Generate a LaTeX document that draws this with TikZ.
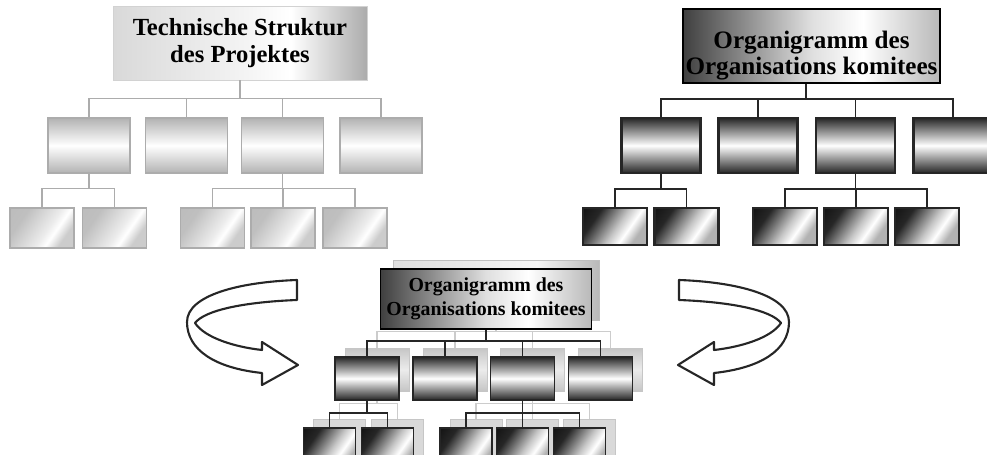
\documentclass[tikz,border=0pt]{standalone}
\usepackage{fontspec}
\setmainfont{Liberation Serif}
\usetikzlibrary{positioning}

% shadings for the boxes
\pgfdeclarehorizontalshading{titlegray}{100bp}{color(0bp)=(gray!30); color(25bp)=(gray!30); color(52bp)=(gray!8); color(60bp)=(white); color(75bp)=(gray!65); color(100bp)=(gray!65)}
\pgfdeclarehorizontalshading{titledark}{100bp}{color(0bp)=(black!80); color(25bp)=(black!75); color(50bp)=(gray!25); color(60bp)=(white); color(75bp)=(gray!55); color(100bp)=(gray!55)}
\pgfdeclarehorizontalshading{titleshadow}{100bp}{color(0bp)=(gray!25); color(25bp)=(gray!25); color(60bp)=(gray!8); color(75bp)=(gray!55); color(100bp)=(gray!55)}
\pgfdeclarehorizontalshading{leafgray}{100bp}{color(0bp)=(gray!55); color(30bp)=(gray!50); color(55bp)=(gray!15); color(62bp)=(white); color(72bp)=(gray!40); color(100bp)=(gray!40)}
\pgfdeclarehorizontalshading{leafdark}{100bp}{color(0bp)=(black); color(30bp)=(black!85); color(52bp)=(gray!45); color(62bp)=(white); color(72bp)=(gray!60); color(100bp)=(gray!60)}

\tikzset{
  ltitle/.style={draw=gray!35, shading=titlegray, minimum width=5.08cm, minimum height=1.48cm, align=center, font=\fontsize{14}{15.4}\selectfont\bfseries},
  lbox/.style={draw=gray!65, line width=0.6pt, top color=gray!60, bottom color=gray!60, middle color=white, minimum width=1.64cm, minimum height=1.1cm},
  lleaf/.style={draw=gray!65, line width=0.6pt, shading=leafgray, shading angle=-35, minimum width=1.28cm, minimum height=0.8cm},
  lline/.style={gray!65, line width=0.7pt},
  rtitle/.style={draw=black, line width=1.2pt, shading=titledark, minimum width=5.14cm, minimum height=1.48cm},
  rtext/.style={align=center, font=\fontsize{14.3}{14.8}\selectfont\bfseries},
  rbox/.style={draw=black!85, line width=1.2pt, top color=black!85, bottom color=black!85, middle color=white, minimum width=1.58cm, minimum height=1.1cm},
  rleaf/.style={draw=black!85, line width=1.2pt, shading=leafdark, shading angle=-35, minimum width=1.28cm, minimum height=0.74cm},
  rline/.style={black!85, line width=1.1pt},
  btitle/.style={draw=black, line width=1pt, shading=titledark, minimum width=4.12cm, minimum height=1.2cm, align=center, font=\fontsize{11.3}{13.7}\selectfont\bfseries},
  bbox/.style={rbox, line width=1pt, minimum width=1.28cm, minimum height=0.86cm},
  bleaf/.style={rleaf, line width=1pt, minimum width=1.04cm, minimum height=0.84cm},
  bline/.style={black!85, line width=0.9pt},
  stitle/.style={draw=gray!50, shading=titleshadow, minimum width=4.12cm, minimum height=1.2cm},
  sbox/.style={draw=gray!45, top color=gray!45, bottom color=gray!45, middle color=gray!15, minimum width=1.28cm, minimum height=0.86cm},
  sleaf/.style={draw=gray!45, fill=gray!30, minimum width=1.04cm, minimum height=0.84cm},
  sline/.style={gray!40, line width=0.9pt},
  swirl/.style={draw=black!85, line width=1.2pt, fill=white, line join=round}
}

\begin{document}
\begin{tikzpicture}[x=0.02cm, y=-0.02cm]
        \useasboundingbox (0,0) rectangle (987,455);
        \clip (0,0) rectangle (987,455);

        % technical structure (left)
        \node[ltitle] (lt) at (240,43) {Technische Struktur\\des Projektes};
        \foreach \i/\x in {1/89,2/186.5,3/282.5,4/381} {
            \node[lbox] (l\i) at (\x,145.5) {};
            \draw[lline] (lt.south) -- ++(0,18) -| (l\i.north);
        }
        \foreach \i/\x in {1/42,2/114.5} {
            \node[lleaf] (la\i) at (\x,228) {};
            \draw[lline] (l1.south) -- ++(0,15) -| (la\i.north);
        }
        \foreach \i/\x in {1/212.5,2/283,3/355} {
            \node[lleaf] (lb\i) at (\x,228) {};
            \draw[lline] (l3.south) -- ++(0,15) -| (lb\i.north);
        }

        % organisation chart (right)
        \node[rtitle] (rt) at (811.5,46) {};
        \node[rtext] (rtx) at (811.5,56) {Organigramm des\\Organisations komitees};
        \foreach \i/\x in {1/661,2/758,3/855.5,4/953} {
            \node[rbox] (r\i) at (\x,145.5) {};
            \draw[rline] ([xshift=-0.11cm]rt.south) -- ++(0,15) -| (r\i.north);
        }
        \foreach \i/\x in {1/615,2/686.5} {
            \node[rleaf] (ra\i) at (\x,226.5) {};
            \draw[rline] (r1.south) -- ++(0,15) -| (ra\i.north);
        }
        \foreach \i/\x in {1/785,2/856,3/927} {
            \node[rleaf] (rb\i) at (\x,226.5) {};
            \draw[rline] (r3.south) -- ++(0,15) -| (rb\i.north);
        }

        % merged chart (bottom), shadow first
        \begin{scope}[shift={(10,-9)}]
            \node[stitle] (st) at (486,299) {};
            \foreach \i/\x in {1/367,2/445,3/522.5,4/600.5} {
                \node[sbox] (s\i) at (\x,378.5) {};
                \draw[sline] (st.south) -- ++(0,11) -| (s\i.north);
            }
            \foreach \i/\x in {1/329.5,2/387.5} {
                \node[sleaf] (sa\i) at (\x,449) {};
                \draw[sline] (s1.south) -- ++(0,12) -| (sa\i.north);
            }
            \foreach \i/\x in {1/466,2/522.5,3/579.5} {
                \node[sleaf] (sb\i) at (\x,449) {};
                \draw[sline] (s3.south) -- ++(0,12) -| (sb\i.north);
            }
        \end{scope}

        \node[btitle] (bt) at (486,299) {Organigramm des\\Organisations komitees};
        \foreach \i/\x in {1/367,2/445,3/522.5,4/600.5} {
            \node[bbox] (b\i) at (\x,378.5) {};
            \draw[bline] (bt.south) -- ++(0,11) -| (b\i.north);
        }
        \foreach \i/\x in {1/329.5,2/387.5} {
            \node[bleaf] (ba\i) at (\x,449) {};
            \draw[bline] (b1.south) -- ++(0,12) -| (ba\i.north);
        }
        \foreach \i/\x in {1/466,2/522.5,3/579.5} {
            \node[bleaf] (bb\i) at (\x,449) {};
            \draw[bline] (b3.south) -- ++(0,12) -| (bb\i.north);
        }

        % curved arrows, the right one mirrored
        \foreach \s/\o in {1/0,-1/976} {
            \begin{scope}[shift={(\o,0)}, xscale=\s]
                \draw[swirl] (297,280) -- (297,300)
                    .. controls (245,302) and (205,310) .. (195,323)
                    .. controls (205,338) and (235,347) .. (262,350)
                    -- (262,342) -- (298,365) -- (262,385) -- (262,373)
                    .. controls (215,368) and (187,350) .. (187,322)
                    .. controls (187,295) and (240,282) .. (297,280) -- cycle;
            \end{scope}
        }
    \end{tikzpicture}
\end{document}
